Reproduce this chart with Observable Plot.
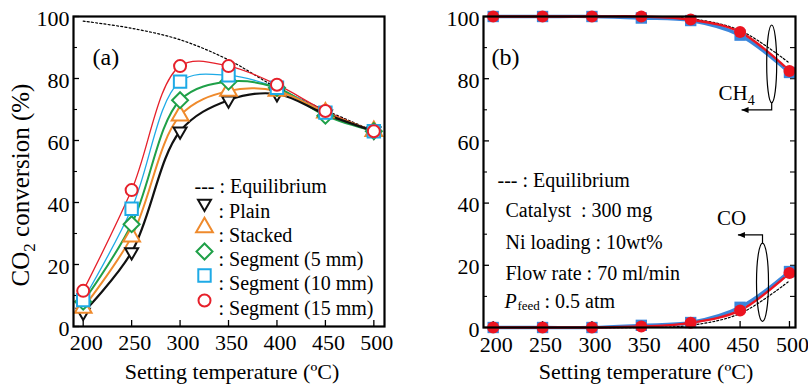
<!DOCTYPE html>
<html><head><meta charset="utf-8">
<script src="https://cdn.jsdelivr.net/npm/d3@7"></script>
<script src="https://cdn.jsdelivr.net/npm/@observablehq/plot@0.6"></script>
<style>
body{margin:0;background:#fff}
#wrap{display:flex;width:808px;height:384px}
</style></head><body><div id="wrap"></div>
<script>
// ---------- data ----------
const temps = [200, 250, 300, 350, 400, 450, 500];
// panel (a): CO2 conversion (%)
const plain   = [4.5, 24, 63, 73, 75, 68.5, 63];
const stacked = [6, 29, 68, 76, 76, 69, 63];
const seg5    = [8, 33, 73, 79, 77, 68, 63];
const seg10   = [8.5, 38, 79, 81, 77, 69, 63];
const seg15   = [11.5, 44, 84, 84, 78, 69.5, 63];
const eqConv  = [98.5, 96.2, 92.5, 86, 77, 69.8, 63];
// panel (b): selectivity (%)
const ch4Seg10 = [100, 100, 100, 99.5, 98.7, 94, 82];
const ch4Seg15 = [100, 100, 100, 100, 99, 95, 82.5];
const coSeg10  = [0, 0, 0, 0.7, 1.6, 6.5, 18];
const coSeg15  = [0, 0, 0, 0.3, 1.5, 5.5, 17.5];
const eqCH4    = [100, 100, 100, 100, 99.3, 95.5, 85];
const eqCO     = [0, 0, 0, 0, 0.7, 4.5, 15];
// ticks and labels
const xTicks = [200, 250, 300, 350, 400, 450, 500];
const yTicks = [0, 20, 40, 60, 80, 100];
const yMinor = [10, 30, 50, 70, 90];
const yAll10 = [10, 20, 30, 40, 50, 60, 70, 80, 90];
const legendLabels = [": Plain", ": Stacked", ": Segment (5 mm)", ": Segment (10 mm)", ": Segment (15 mm)"];
const infoLines = ["--- : Equilibrium", "Catalyst\u00a0 : 300 mg", "Ni loading : 10wt%", "Flow rate : 70 ml/min"];

// ---------- styles ----------
const F = "'Liberation Serif','Times New Roman',serif";
const ink = "#000";
const rows = vals => temps.map((t, i) => ({t, v: vals[i]}));
const triDown = {draw(ctx, size) {
  const r = Math.sqrt(size) * 0.6824, t = r / 2, u = r * Math.sqrt(3) / 2;
  ctx.moveTo(0, r); ctx.lineTo(-u, -t); ctx.lineTo(u, -t); ctx.closePath();
}};
const seriesA = [
  {vals: plain,   color: "#111111", symbol: triDown,     r: 6.2, lw: 2.2},
  {vals: stacked, color: "#ef8a2c", symbol: "triangle2", r: 8.0, lw: 2.0},
  {vals: seg5,    color: "#1fa048", symbol: "diamond2",  r: 7.2, lw: 2.0},
  {vals: seg10,   color: "#1eaae6", symbol: "square",    r: 7.0, lw: 1.3},
  {vals: seg15,   color: "#e6202a", symbol: "circle",    r: 6.0, lw: 1.3}
];
const W = 404, H = 384;
const mA = {l: 73, r: 20, t: 16, b: 58};
const fwA = W - mA.l - mA.r, fhA = H - mA.t - mA.b;
const legendDy = [187, 211, 235, 259, 284];
const txt = (s, o) => Plot.text([s], {text: d => d, frameAnchor: "top-left", textAnchor: "start", fill: ink, ...o});

const plotA = Plot.plot({
  width: W, height: H,
  marginLeft: mA.l, marginRight: mA.r, marginTop: mA.t, marginBottom: mA.b,
  x: {domain: [190, 511]},
  y: {domain: [0, 100]},
  style: {fontFamily: F, fontSize: "22px", color: ink, background: "#fff", overflow: "visible"},
  marks: [
    Plot.ruleX(xTicks, {insetTop: fhA - 6, stroke: ink, strokeWidth: 1.3}),
    Plot.ruleY(yTicks, {insetRight: fwA - 6, stroke: ink, strokeWidth: 1.3}),
    Plot.ruleY(yMinor, {insetRight: fwA - 4, stroke: ink, strokeWidth: 1.1}),
    Plot.axisX({ticks: xTicks, tickSize: 0, tickPadding: 8, label: null, fontSize: 22, dx: 3, tickFormat: d => String(d)}),
    Plot.axisY({ticks: yTicks, tickSize: 0, tickPadding: 4, label: null, fontSize: 22, dy: 2}),
    Plot.line(rows(eqConv), {x: "t", y: "v", curve: "catmull-rom", stroke: ink, strokeWidth: 1.2, strokeDasharray: "2,2.2"}),
    ...[...seriesA].reverse().map(s => Plot.line(rows(s.vals), {x: "t", y: "v", curve: "catmull-rom", stroke: s.color, strokeWidth: s.lw})),
    ...seriesA.map(s => Plot.dot(rows(s.vals), {x: "t", y: "v", symbol: s.symbol, r: s.r, stroke: s.color, strokeWidth: 2, fill: "#fff"})),
    Plot.frame({stroke: ink, strokeWidth: 2.2}),
    txt("(a)", {dx: 19, dy: 31, fontSize: 24}),
    txt("--- : Equilibrium", {dx: 121, dy: 162, fontSize: 20}),
    ...seriesA.map((s, i) => Plot.dot([0], {frameAnchor: "top-left", dx: 131, dy: legendDy[i], symbol: s.symbol, r: s.r, stroke: s.color, strokeWidth: 2, fill: "#fff"})),
    ...legendLabels.map((lab, i) => txt(lab, {dx: 145, dy: legendDy[i], fontSize: 20}))
  ]
});

// ---------- panel (b) ----------
const blueB = "#3a86dc", redB = "#ec1420";
const mB = {l: 79, r: 13, t: 16, b: 57};
const fwB = W - mB.l - mB.r, fhB = H - mB.t - mB.b;
const infoDx = [14, 22, 22, 22];
const infoDy = [156, 186, 218, 249];
const lineB = (vals, color, lw) => Plot.line(rows(vals), {x: "t", y: "v", curve: "catmull-rom", stroke: color, strokeWidth: lw});
const plotB = Plot.plot({
  width: W, height: H,
  marginLeft: mB.l, marginRight: mB.r, marginTop: mB.t, marginBottom: mB.b,
  x: {domain: [190.2, 506.1]},
  y: {domain: [0, 100]},
  style: {fontFamily: F, fontSize: "22px", color: ink, background: "#fff", overflow: "visible"},
  marks: [
    Plot.ruleX(xTicks, {insetTop: fhB - 6, stroke: ink, strokeWidth: 1.3}),
    Plot.ruleY(yTicks, {insetRight: fwB - 6, stroke: ink, strokeWidth: 1.3}),
    Plot.ruleY(yMinor, {insetRight: fwB - 4, stroke: ink, strokeWidth: 1.1}),
    Plot.ruleY(yAll10, {insetLeft: fwB - 5, stroke: ink, strokeWidth: 1.1}),
    Plot.axisX({ticks: xTicks, tickSize: 0, tickPadding: 9, label: null, fontSize: 22, dx: 3, tickFormat: d => String(d)}),
    Plot.axisY({ticks: yTicks, tickSize: 0, tickPadding: 4, label: null, fontSize: 22, dy: 2}),
    Plot.line(rows(eqCH4), {x: "t", y: "v", curve: "catmull-rom", stroke: ink, strokeWidth: 1.2, strokeDasharray: "2,2"}),
    Plot.line(rows(eqCO), {x: "t", y: "v", curve: "catmull-rom", stroke: ink, strokeWidth: 1.2, strokeDasharray: "2,2"}),
    lineB(ch4Seg10, blueB, 3.4), lineB(coSeg10, blueB, 3.4),
    lineB(ch4Seg15, redB, 2.4), lineB(coSeg15, redB, 2.4),
    Plot.dot(rows(ch4Seg10), {x: "t", y: "v", symbol: "square", r: 6.4, fill: blueB}),
    Plot.dot(rows(coSeg10), {x: "t", y: "v", symbol: "square", r: 6.4, fill: blueB}),
    Plot.dot(rows(ch4Seg15), {x: "t", y: "v", symbol: "circle", r: 6, fill: redB}),
    Plot.dot(rows(coSeg15), {x: "t", y: "v", symbol: "circle", r: 6, fill: redB}),
    Plot.frame({stroke: ink, strokeWidth: 2.2}),
    txt("(b)", {dx: 8, dy: 31, fontSize: 24}),
    ...infoLines.map((s, i) => txt(s, {dx: infoDx[i], dy: infoDy[i], fontSize: 20})),
    txt("P", {dx: 21, dy: 277, fontSize: 20, fontStyle: "italic"}),
    txt("feed", {dx: 34, dy: 284, fontSize: 13}),
    txt(": 0.5 atm", {dx: 61, dy: 277, fontSize: 20})
  ]
});

// ---------- rich texts and annotations ----------
function rich(svg, x, y, parts, {size, rotate = 0, anchor = "middle"}) {
  const t = d3.select(svg).append("text")
    .attr("transform", `translate(${x},${y}) rotate(${rotate})`)
    .attr("text-anchor", anchor).attr("font-family", F).attr("font-size", size).attr("fill", ink);
  let shift = 0;
  for (const p of parts) {
    const ts = t.append("tspan").text(p.t);
    const target = p.sub ? p.sub : 0;
    if (target !== shift) { ts.attr("dy", target - shift); shift = target; }
    if (p.size) ts.attr("font-size", p.size);
  }
  return t;
}
rich(plotA, 29, 185, [{t: "CO"}, {t: "2", sub: 6, size: 17}, {t: " conversion (%)"}], {size: 25, rotate: -90});
rich(plotA, 232, 379, [{t: "Setting temperature (ºC)"}], {size: 22});
rich(plotB, 433, 191, [{t: "CH"}, {t: "4", sub: 6, size: 17}, {t: ", CO selectivity (%)"}], {size: 25, rotate: -90});
rich(plotB, 646 - W, 379, [{t: "Setting temperature (ºC)"}], {size: 22});

const sx = plotB.scale("x"), sy = plotB.scale("y");
const X = v => sx.apply(v), Y = v => sy.apply(v);
const g = d3.select(plotB).append("g").attr("fill", "none").attr("stroke", ink).attr("stroke-width", 1.2);
function note(cx, cy, ry, lineEnd, arrowX, rx) {
  g.append("ellipse").attr("cx", X(cx)).attr("cy", Y(cy)).attr("rx", rx).attr("ry", Math.abs(Y(cy + ry) - Y(cy)));
  const edge = lineEnd < cy ? cy - ry : cy + ry;
  g.append("path").attr("d", `M${X(cx)},${Y(edge)}V${Y(lineEnd)}H${X(arrowX)}`);
  g.append("path").attr("fill", ink).attr("stroke", "none")
    .attr("d", `M${X(arrowX)},${Y(lineEnd)}l7,-3l0,6z`);
}
note(482.5, 84.6, 12.5, 69.8, 452, 5);
note(473.2, 14.4, 12.6, 29.6, 448.3, 6);
rich(plotB, X(447), Y(75.2) + 7, [{t: "CH"}, {t: "4", sub: 5, size: 14}], {size: 21});
rich(plotB, X(442), Y(35) + 7, [{t: "CO"}], {size: 21});

document.getElementById("wrap").append(plotA, plotB);
</script>
</body></html>
